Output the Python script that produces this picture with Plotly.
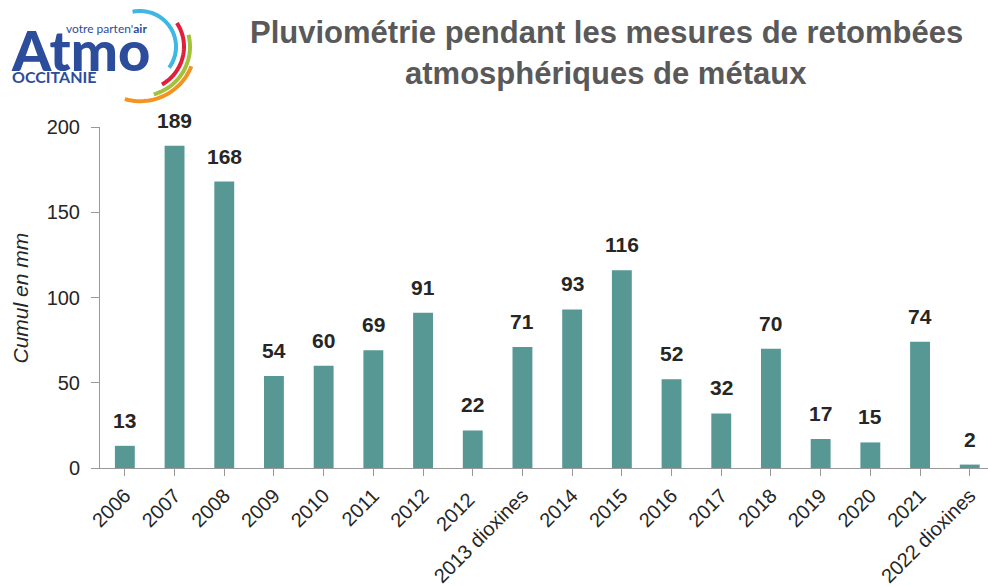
import math
import plotly.graph_objects as go

# Rainfall totals (mm) for each metal deposition measurement campaign
categories = ["2006", "2007", "2008", "2009", "2010", "2011", "2012", "2012 ",
              "2013 dioxines", "2014", "2015", "2016", "2017", "2018", "2019",
              "2020", "2021", "2022 dioxines"]
rainfall_mm = [13, 189, 168, 54, 60, 69, 91, 22, 71, 93, 116, 52, 32, 70, 17, 15, 74, 2]
y_ticks = [0, 50, 100, 150, 200]

W, H = 988, 587
L, R, T, B = 100, 0, 127, 116
PW, PH = W - L - R, H - T - B

BAR = "#579794"
NARROW = "Liberation Sans Narrow, Liberation Sans, Arial, sans-serif"

fig = go.Figure()
fig.add_trace(go.Bar(
    x=list(range(len(categories))), y=rainfall_mm,
    marker=dict(color=BAR, line=dict(width=0)),
    width=0.4, hoverinfo="skip",
))

# value labels above bars
for i, v in enumerate(rainfall_mm):
    fig.add_annotation(x=i, y=v, text=f"<b>{v}</b>", showarrow=False,
                       xref="x", yref="y", yanchor="bottom", yshift=12,
                       font=dict(family=NARROW, size=21, color="#262626"))


def px2paper(px, py):
    return (px - L) / PW, (H - B - py) / PH


# logo arcs
arcs = [
    ("#3EB8E3", 36, 102, -36),
    ("#E0203A", 44, 33, -60),
    ("#A2C23A", 50, 14, -74),
    ("#F39422", 55, -21, -106),
]
cx, cy = 140, 46
for color, r, a0, a1 in arcs:
    pts = []
    n = 30
    for k in range(n + 1):
        a = math.radians(a0 + (a1 - a0) * k / n)
        px = cx + r * math.cos(a)
        py = cy - r * math.sin(a)
        pts.append(px2paper(px, py))
    path = "M " + " L ".join(f"{x:.5f},{y:.5f}" for x, y in pts)
    fig.add_shape(type="path", path=path, xref="paper", yref="paper",
                  line=dict(color=color, width=4), layer="above")

LOGO_BLUE = "#2C4C9C"
x, y = px2paper(9, 49)
fig.add_annotation(x=x, y=y, xref="paper", yref="paper", xanchor="left", yanchor="middle",
                   text="Atmo", showarrow=False,
                   font=dict(family="Lato, sans-serif", size=56, weight=900, color=LOGO_BLUE))
x, y = px2paper(10, 76)
fig.add_annotation(x=x, y=y, xref="paper", yref="paper", xanchor="left", yanchor="middle",
                   text="<b>OCCITANIE</b>", showarrow=False,
                   font=dict(family="Lato, sans-serif", size=16, color=LOGO_BLUE))
x, y = px2paper(149, 28)
fig.add_annotation(x=x, y=y, xref="paper", yref="paper", xanchor="right", yanchor="middle",
                   text="votre parten'<b>air</b>", showarrow=False,
                   font=dict(family="Lato, sans-serif", size=12, color=LOGO_BLUE))

# title
for text, py in [("Pluviométrie pendant les mesures de retombées", 32),
                 ("atmosphériques de métaux", 73)]:
    x, y = px2paper(606, py)
    fig.add_annotation(x=x, y=y, xref="paper", yref="paper", xanchor="center", yanchor="middle",
                       text=f"<b>{text}</b>", showarrow=False,
                       font=dict(family=NARROW, size=31, color="#595959"))

# y-axis title
x, y = px2paper(20, 300)
fig.add_annotation(x=x, y=y, xref="paper", yref="paper", xanchor="center", yanchor="middle",
                   text="<i>Cumul en mm</i>", textangle=-90, showarrow=False,
                   font=dict(family=NARROW, size=21, color="#262626"))

fig.update_layout(
    width=W, height=H,
    margin=dict(l=L, r=R, t=T, b=B, pad=0),
    paper_bgcolor="white", plot_bgcolor="white",
    showlegend=False,
    xaxis=dict(
        range=[-0.5, -0.5 + PW / 49.7],
        tickmode="array", tickvals=list(range(len(categories))), ticktext=categories,
        tickangle=-45, ticks="outside", ticklen=7, tickcolor="#999999",
        showline=True, linecolor="#999999", linewidth=1,
        showgrid=False, zeroline=False,
        tickfont=dict(family=NARROW, size=20, color="#262626"),
    ),
    yaxis=dict(
        range=[0, 200], tickmode="array", tickvals=y_ticks,
        ticks="outside", ticklen=8, tickcolor="#999999",
        showline=True, linecolor="#999999", linewidth=1,
        showgrid=False, zeroline=False, ticklabelstandoff=7,
        tickfont=dict(family=NARROW, size=20, color="#262626"),
    ),
)

fig.write_html("out.html")
